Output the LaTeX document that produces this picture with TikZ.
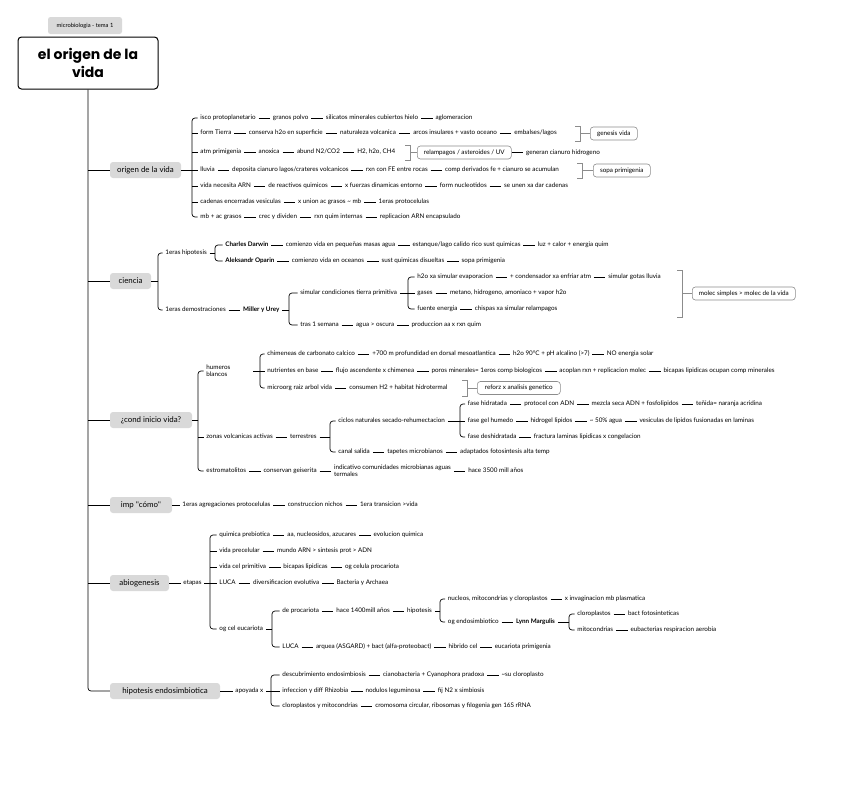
\documentclass[tikz,border=0pt]{standalone}
\usepackage{fontspec}
\usetikzlibrary{positioning,calc}
\newfontfamily\latof{Lato}
\newfontfamily\popf{Poppins}
\definecolor{nodegray}{HTML}{D9D9D9}
\definecolor{sumgray}{HTML}{8C8C8C}
\newcommand\smallf{\latof\fontsize{6.3}{7}\selectfont}
\newcommand\mainf{\latof\fontsize{7.9}{9}\selectfont}
\newcommand\titlef{\popf\bfseries\fontsize{14}{18}\selectfont}
\newcommand\labf{\latof\fontsize{5.8}{6}\selectfont}
\tikzset{
 base/.style={font=\smallf, inner xsep=2.75pt, inner ysep=0.8pt, anchor=west},
 t/.style={base, text height=4.7pt, text depth=1.0pt},
 tb/.style={t, font=\smallf\bfseries},
 t2/.style={base, align=left},
 mainn/.style={fill=nodegray, rounded corners=3pt, font=\mainf, minimum height=16pt, inner sep=0pt},
 sbox/.style={draw=sumgray, line width=0.6pt, rounded corners=3pt, font=\smallf, minimum height=13pt, inner xsep=4pt, inner ysep=0pt, anchor=west},
 ln/.style={line width=0.7pt},
 rc/.style={ln, rounded corners=3pt},
 sl/.style={draw=sumgray, line width=0.6pt}
}
\newcommand\chn[3]{\node[t, right=11.5pt of #1] (#2) {#3}; \draw[ln] (#1) -- (#2);}
\newcommand\chnb[3]{\node[tb, right=11.5pt of #1] (#2) {#3}; \draw[ln] (#1) -- (#2);}
\newcommand\sumbr[4]{\draw[sl] (#1-5,#2) -- (#1,#2) -- (#1,#3) -- (#1-5,#3); \draw[sl] (#1,{(#2+#3)/2}) -- (#4.west);}
\begin{document}
\begin{tikzpicture}[x=1pt,y=-1pt]
\fill[white] (0,0) rectangle (848,788);
\useasboundingbox (0,0) rectangle (848,788);
% title
\node[fill=nodegray, rounded corners=2.5pt, minimum width=74pt, minimum height=17pt, inner sep=0pt, font=\labf] (lb) at (85,25.5) {microbiologia - tema 1};
\node[draw, line width=1pt, rounded corners=3.5pt, minimum width=140pt, minimum height=52pt, align=center, font=\titlef, inner sep=0pt] (title) at (88,63) {el origen de la\\vida};
% main nodes
\node[mainn, minimum width=71pt] (m1) at (145.5,170) {origen de la vida};
\node[mainn, minimum width=41pt] (m2) at (130.5,281) {ciencia};
\node[mainn, minimum width=82pt] (m3) at (151,420) {¿cond inicio vida?};
\node[mainn, minimum width=62pt] (m4) at (141,505) {imp ''cómo''};
\node[mainn, minimum width=59pt] (m5) at (139.5,583) {abiogenesis};
\node[mainn, minimum width=110pt] (m6) at (165,691) {hipotesis endosimbiotica};
\draw[rc] (title.south) |- (m6.west);
\foreach \n in {m1,m2,m3,m4,m5} \draw[ln] (title.south |- \n.west) -- (\n.west);

% ===== section 1
\coordinate (s1) at (192,170);
\node[t] (r1a) at (197.5,118) {isco protoplanetario};
\chn{r1a}{r1b}{granos polvo}
\chn{r1b}{r1c}{silicatos minerales cubiertos hielo}
\chn{r1c}{r1d}{aglomeracion}
\node[t] (r2a) at (197.5,133) {form Tierra};
\chn{r2a}{r2b}{conserva h2o en superficie}
\chn{r2b}{r2c}{naturaleza volcanica}
\chn{r2c}{r2d}{arcos insulares + vasto oceano}
\chn{r2d}{r2e}{embalses/lagos}
\node[sbox, minimum width=47pt] (g1) at (590,133.5) {genesis vida};
\sumbr{580}{126}{141}{g1}
\node[t] (r3a) at (197.5,152) {atm primigenia};
\chn{r3a}{r3b}{anoxica}
\chn{r3b}{r3c}{abund N2/CO2}
\chn{r3c}{r3d}{H2, h2o, CH4}
\node[sbox, minimum width=94pt] (g2) at (417,152.5) {relampagos / asteroides / UV};
\sumbr{410}{145}{160}{g2}
\chn{g2}{r3e}{generan cianuro hidrogeno}
\node[t] (r4a) at (197.5,170) {lluvia};
\chn{r4a}{r4b}{deposita cianuro lagos/crateres volcanicos}
\chn{r4b}{r4c}{rxn con FE entre rocas}
\chn{r4c}{r4d}{comp derivados fe + cianuro se acumulan}
\node[sbox, minimum width=57pt] (g3) at (593,170.5) {sopa primigenia};
\sumbr{582}{163}{178}{g3}
\node[t] (r5a) at (197.5,186) {vida necesita ARN};
\chn{r5a}{r5b}{de reactivos quimicos}
\chn{r5b}{r5c}{x fuerzas dinamicas entorno}
\chn{r5c}{r5d}{form nucleotidos}
\chn{r5d}{r5e}{se unen xa dar cadenas}
\node[t] (r6a) at (197.5,202) {cadenas encerradas vesiculas};
\chn{r6a}{r6b}{x union ac grasos \textasciitilde{} mb}
\chn{r6b}{r6c}{1eras protocelulas}
\node[t] (r7a) at (197.5,217) {mb + ac grasos};
\chn{r7a}{r7b}{crec y dividen}
\chn{r7b}{r7c}{rxn quim internas}
\chn{r7c}{r7d}{replicacion ARN encapsulado}
\draw[ln] (m1.east) -- (s1);
\draw[rc] (s1) |- (r1a.west);
\draw[rc] (s1) |- (r7a.west);
\foreach \n in {r2a,r3a,r4a,r5a,r6a} \draw[ln] (s1 |- \n.west) -- (\n.west);

% ===== section 2
\coordinate (s2) at (158,281);
\node[t] (h1) at (162.5,253) {1eras hipotesis};
\node[t] (h2) at (162.5,310) {1eras demostraciones};
\draw[ln] (m2.east) -- (s2);
\draw[rc] (s2) |- (h1.west);
\draw[rc] (s2) |- (h2.west);
\coordinate (s3) at (215,253);
\node[tb] (d1) at (222.5,245) {Charles Darwin};
\chn{d1}{d2}{comienzo vida en pequeñas masas agua}
\chn{d2}{d3}{estanque/lago calido rico sust quimicas}
\chn{d3}{d4}{luz + calor + energia quim}
\node[tb] (o1) at (222.5,261) {Aleksandr Oparin};
\chn{o1}{o2}{comienzo vida en oceanos}
\chn{o2}{o3}{sust quimicas disueltas}
\chn{o3}{o4}{sopa primigenia}
\draw[ln] (h1.east) -- (s3);
\draw[rc] (s3) |- (d1.west);
\draw[rc] (s3) |- (o1.west);
\chnb{h2}{mu}{Miller y Urey}
\coordinate (s4) at (289,310);
\node[t] (sc) at (297.5,293) {simular condiciones tierra primitiva};
\node[t] (ts1) at (297.5,325) {tras 1 semana};
\chn{ts1}{ts2}{agua > oscura}
\chn{ts2}{ts3}{produccion aa x rxn quim}
\draw[ln] (mu.east) -- (s4);
\draw[rc] (s4) |- (sc.west);
\draw[rc] (s4) |- (ts1.west);
\coordinate (s5) at (408,293);
\node[t] (e1) at (414.5,277) {h2o xa simular evaporacion};
\chn{e1}{e1b}{+ condensador xa enfriar atm}
\chn{e1b}{e1c}{simular gotas lluvia}
\node[t] (e2) at (414.5,293) {gases};
\chn{e2}{e2b}{metano, hidrogeno, amoniaco + vapor h2o}
\node[t] (e3) at (414.5,309) {fuente energia};
\chn{e3}{e3b}{chispas xa simular relampagos}
\draw[ln] (sc.east) -- (s5);
\draw[rc] (s5) |- (e1.west);
\draw[rc] (s5) |- (e3.west);
\draw[ln] (s5) -- (e2.west);
\node[sbox, minimum width=103pt] (g4) at (692,293.5) {molec simples > molec de la vida};
\sumbr{682}{270}{317}{g4}

% ===== section 3
\coordinate (s6) at (198,420);
\node[t2, text width=44pt] (hb) at (203.5,371) {humeros\\blancos};
\node[t] (zv) at (203.5,437) {zonas volcanicas activas};
\node[t] (es) at (203.5,471) {estromatolitos};
\draw[ln] (m3.east) -- (s6);
\draw[rc] (s6) |- (hb.west);
\draw[rc] (s6) |- (es.west);
\draw[ln] (s6 |- zv.west) -- (zv.west);
\coordinate (s7) at (260,371);
\node[t] (c1) at (264.5,354) {chimeneas de carbonato calcico};
\chn{c1}{c1b}{+700 m profundidad en dorsal mesoatlantica}
\chn{c1b}{c1c}{h2o 90°C + pH alcalino (>7)}
\chn{c1c}{c1d}{NO energia solar}
\node[t] (c2) at (264.5,371) {nutrientes en base};
\chn{c2}{c2b}{flujo ascendente x chimenea}
\chn{c2b}{c2c}{poros minerales= 1eros comp biologicos}
\chn{c2c}{c2d}{acoplan rxn + replicacion molec}
\chn{c2d}{c2e}{bicapas lipidicas ocupan comp minerales}
\node[t] (c3) at (264.5,388) {microorg raiz arbol vida};
\chn{c3}{c3b}{consumen H2 + habitat hidrotermal}
\node[sbox, minimum width=83pt] (g5) at (477,388) {reforz x analisis genetico};
\sumbr{467}{380}{396}{g5}
\draw[ln] (hb.east) -- (s7);
\draw[rc] (s7) |- (c1.west);
\draw[rc] (s7) |- (c3.west);
\draw[ln] (s7) -- (c2.west);
\chn{zv}{te}{terrestres}
\coordinate (s8) at (330,437);
\node[t] (ci) at (335.5,421) {ciclos naturales secado-rehumectacion};
\node[t] (ca) at (335.5,452) {canal salida};
\chn{ca}{cab}{tapetes microbianos}
\chn{cab}{cac}{adaptados fotosintesis alta temp}
\draw[ln] (te.east) -- (s8);
\draw[rc] (s8) |- (ci.west);
\draw[rc] (s8) |- (ca.west);
\coordinate (s9) at (460,421);
\node[t] (f1) at (465,404) {fase hidratada};
\chn{f1}{f1b}{protocel con ADN}
\chn{f1b}{f1c}{mezcla seca ADN + fosfolipidos}
\chn{f1c}{f1d}{teñida= naranja acridina}
\node[t] (f2) at (465,421) {fase gel humedo};
\chn{f2}{f2b}{hidrogel lipidos}
\chn{f2b}{f2c}{\textasciitilde{} 50\% agua}
\chn{f2c}{f2d}{vesiculas de lipidos fusionadas en laminas}
\node[t] (f3) at (465,437) {fase deshidratada};
\chn{f3}{f3b}{fractura laminas lipidicas x congelacion}
\draw[ln] (ci.east) -- (s9);
\draw[rc] (s9) |- (f1.west);
\draw[rc] (s9) |- (f3.west);
\draw[ln] (s9) -- (f2.west);
\chn{es}{es2}{conservan geiserita}
\node[t2, right=11.5pt of es2] (es3) {indicativo comunidades microbianas aguas\\termales};
\draw[ln] (es2) -- (es3);
\chn{es3}{es4}{hace 3500 mill años}

% ===== section 4
\node[t] (i1) at (179.5,505) {1eras agregaciones protocelulas};
\draw[ln] (m4) -- (i1);
\chn{i1}{i2}{construccion nichos}
\chn{i2}{i3}{1era transicion >vida}

% ===== section 5
\node[t] (et) at (180.5,583) {etapas};
\draw[ln] (m5) -- (et);
\coordinate (s10) at (210,583);
\node[t] (q1) at (216.5,535) {quimica prebiotica};
\chn{q1}{q1b}{aa, nucleosidos, azucares}
\chn{q1b}{q1c}{evolucion quimica}
\node[t] (q2) at (216.5,551) {vida precelular};
\chn{q2}{q2b}{mundo ARN > sintesis prot > ADN}
\node[t] (q3) at (216.5,567) {vida cel primitiva};
\chn{q3}{q3b}{bicapas lipidicas}
\chn{q3b}{q3c}{og celula procariota}
\node[t] (q4) at (216.5,583) {LUCA};
\chn{q4}{q4b}{diversificacion evolutiva}
\chn{q4b}{q4c}{Bacteria y Archaea}
\node[t] (oe) at (216.5,629) {og cel eucariota};
\draw[ln] (et.east) -- (s10);
\draw[rc] (s10) |- (q1.west);
\draw[rc] (s10) |- (oe.west);
\foreach \n in {q2,q3,q4} \draw[ln] (s10 |- \n.west) -- (\n.west);
\coordinate (s11) at (272,629);
\node[t] (p1) at (279.5,611) {de procariota};
\chn{p1}{p2}{hace 1400mill años}
\chn{p2}{hp}{hipotesis}
\node[t] (l1) at (279.5,647) {LUCA};
\chn{l1}{l2}{arquea (ASGARD) + bact (alfa-proteobact)}
\chn{l2}{l3}{hibrido cel}
\chn{l3}{l4}{eucariota primigenia}
\draw[ln] (oe.east) -- (s11);
\draw[rc] (s11) |- (p1.west);
\draw[rc] (s11) |- (l1.west);
\coordinate (s12) at (440,611);
\node[t] (n1) at (445,599) {nucleos, mitocondrias y cloroplastos};
\chn{n1}{n2}{x invaginacion mb plasmatica}
\node[t] (oen) at (445,622) {og endosimbiotico};
\chnb{oen}{lm}{Lynn Margulis}
\draw[ln] (hp.east) -- (s12);
\draw[rc] (s12) |- (n1.west);
\draw[rc] (s12) |- (oen.west);
\coordinate (s13) at (569,622);
\node[t] (k1) at (574.5,614) {cloroplastos};
\chn{k1}{k2}{bact fotosinteticas}
\node[t] (k3) at (574.5,630) {mitocondrias};
\chn{k3}{k4}{eubacterias respiracion aerobia}
\draw[ln] (lm.east) -- (s13);
\draw[rc] (s13) |- (k1.west);
\draw[rc] (s13) |- (k3.west);

% ===== section 6
\node[t] (ap) at (232.5,691) {apoyada x};
\draw[ln] (m6) -- (ap);
\coordinate (s14) at (271,691);
\node[t] (u1) at (279.5,675) {descubrimiento endosimbiosis};
\chn{u1}{u1b}{cianobacteria + Cyanophora pradoxa}
\chn{u1b}{u1c}{\textasciitilde su cloroplasto}
\node[t] (u2) at (279.5,691) {infeccion y diff Rhizobia};
\chn{u2}{u2b}{nodulos leguminosa}
\chn{u2b}{u2c}{fij N2 x simbiosis}
\node[t] (u3) at (279.5,706) {cloroplastos y mitocondrias};
\chn{u3}{u3b}{cromosoma circular, ribosomas y filogenia gen 16S rRNA}
\draw[ln] (ap.east) -- (s14);
\draw[rc] (s14) |- (u1.west);
\draw[rc] (s14) |- (u3.west);
\draw[ln] (s14) -- (u2.west);
\end{tikzpicture}
\end{document}
